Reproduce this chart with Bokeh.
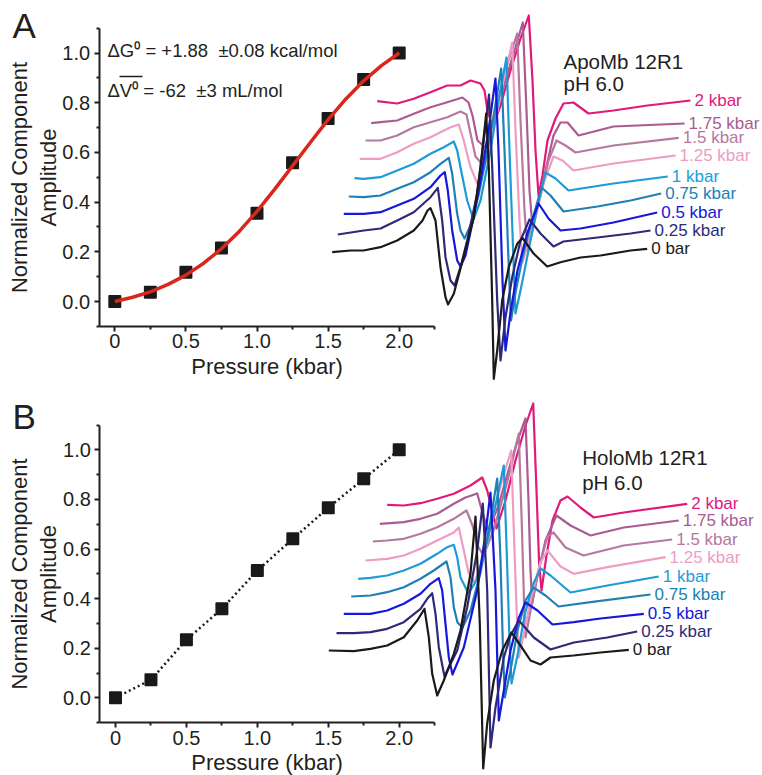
from bokeh.plotting import figure
from bokeh.layouts import column
from bokeh.models import Range1d, FixedTicker, NumeralTickFormatter, LinearAxis
from bokeh.core.properties import value
from bokeh.embed import file_html
from bokeh.resources import INLINE

FONT = "Liberation Sans"
INK = "#231f20"
NB = "\u00a0"

# ---------------- data ----------------
pressure_kbar = [0, 0.25, 0.5, 0.75, 1.0, 1.25, 1.5, 1.75, 2.0]
apo_amplitude = [0.0, 0.037, 0.118, 0.215, 0.355, 0.558, 0.736, 0.893, 1.0]
holo_amplitude = [0.0, 0.073, 0.234, 0.359, 0.513, 0.641, 0.766, 0.883, 1.0]

apo_fit_pressure = [0, 0.125, 0.25, 0.375, 0.5, 0.625, 0.75, 0.875, 1.0,
                    1.125, 1.25, 1.375, 1.5, 1.625, 1.75, 1.875, 2.0]
apo_fit_amplitude = [0.0, 0.017, 0.039, 0.069, 0.106, 0.154, 0.212, 0.282, 0.363,
                     0.452, 0.546, 0.640, 0.732, 0.815, 0.888, 0.949, 1.0]

spectrum_labels = ["0 bar", "0.25 kbar", "0.5 kbar", "0.75 kbar", "1 kbar",
                   "1.25 kbar", "1.5 kbar", "1.75 kbar", "2 kbar"]
spectrum_colors = ["#1a1a1a", "#2e2a78", "#1717dc", "#2080b6", "#1e9bd6",
                   "#ee9cc4", "#b6789f", "#ac5a93", "#e0197b"]

# EPR spectra (stacked, arbitrary field / signal units)
apo_field = [
    [331.7, 350, 363, 380, 396.7, 413.3, 422, 427, 430, 435, 440, 445, 447.5, 453.3, 460, 473.3, 480, 485.7, 488.3, 491.7, 493.3, 496.7, 501.7, 508.3, 516.7, 522, 533.3, 546.7, 560, 580, 600, 630, 646.7],
    [337.3, 363.3, 380, 396.7, 413.3, 430, 437.3, 441.7, 445, 450, 454, 460, 466.7, 476.7, 483.3, 488.5, 491.7, 496.7, 500, 505, 511.7, 520, 529, 540, 553, 563, 597, 630, 650],
    [343.3, 363.3, 380, 396.7, 413.3, 430, 440, 444.3, 447.3, 451.7, 456.7, 460, 465, 472, 480, 488, 495, 498, 502, 505, 510, 517, 527, 538, 548, 560, 580, 613, 656.7],
    [348.3, 363.3, 380, 396.7, 413.3, 430, 440, 448.3, 451.7, 456.7, 460, 464, 470, 478, 486, 494, 500.7, 504, 508, 510.5, 515, 522, 531, 541, 550, 563, 597, 630, 660.7],
    [354, 363.3, 380, 396.7, 413.3, 430, 443.3, 453.3, 456.7, 460, 466.7, 473, 480, 490, 498, 506, 509, 513, 515, 520, 527, 536, 545, 555, 568, 613, 667.3],
    [359.3, 380, 396.7, 413.3, 430, 450, 458.3, 463.3, 470, 478, 486, 495, 503, 511.7, 515, 519, 522, 527, 535, 544, 553, 562, 573, 613, 675],
    [365, 380, 396.7, 413.3, 430, 446.7, 460, 466, 470, 475, 481, 490, 500, 508, 516.7, 520, 524, 527, 532, 540, 548, 556, 565, 575, 613, 678.3],
    [370.7, 380, 396.7, 413.3, 430, 446.7, 462, 468, 472, 477, 485, 495, 505, 514, 522.3, 526, 529, 532, 537, 545, 553, 560, 567, 578, 613, 684],
    [376.7, 396.7, 413.3, 430, 446.7, 460, 470, 480, 484, 487, 492, 500, 510, 520, 528.3, 532, 535, 538, 542, 547, 555, 563, 573, 588, 613, 647, 690],
]
apo_signal = [
    [251.7, 250, 250, 246.7, 240, 230, 220, 210, 207.7, 220, 266.7, 296.7, 304, 293.3, 268, 216.7, 166.7, 113, 166.7, 300, 378.3, 350, 300, 266.7, 243.3, 237.5, 253.3, 266, 261.7, 257, 255, 250, 248.3],
    [234, 230, 228, 220, 211.7, 196.7, 187.3, 220, 256.7, 280, 285, 266.7, 240, 193, 140, 94, 166.7, 300, 360, 316.7, 276.7, 240, 219, 233, 246, 241, 237, 233, 230],
    [213.3, 213.3, 211.7, 205, 198.3, 186.7, 175, 171.7, 190, 230, 260, 266, 255, 222, 180, 130, 78, 150, 280, 350, 312, 270, 232, 203, 218, 230, 228, 222, 212],
    [196, 196.7, 195, 188.3, 181.7, 171.7, 163.3, 157.3, 173.3, 213.3, 230, 238, 225, 195, 155, 110, 68, 150, 260, 320, 292, 257, 222, 187, 195, 211, 206, 200, 193],
    [177.7, 178.3, 176.7, 170, 163.3, 153.3, 146.7, 141, 150, 167, 200, 219, 200, 150, 100, 57, 150, 260, 313, 290, 255, 210, 172, 178, 190, 183, 176],
    [158.3, 158.3, 151.7, 143.3, 136.7, 126.7, 124, 140, 166.7, 186, 160, 120, 80, 42, 130, 220, 262, 245, 215, 180, 156, 160, 170, 163, 155],
    [140, 140, 135, 126.7, 121.7, 116.7, 111, 114, 133, 156, 163, 130, 90, 60, 33, 120, 210, 250, 230, 195, 160, 140, 145, 152, 145, 137.3],
    [122.7, 121.7, 120, 113.3, 106.7, 101.7, 97, 102, 115, 140, 147, 115, 80, 50, 22, 110, 190, 227, 205, 170, 135, 122, 122, 135, 126, 123],
    [100.7, 103, 98.3, 91.7, 85, 85, 80, 83, 90, 110, 126, 105, 70, 38, 15, 80, 150, 195, 175, 140, 118, 103, 102, 113, 110, 105, 100],
]
holo_field = [
    [328.3, 353.3, 370, 386.7, 403.3, 416.7, 424, 428.3, 431.7, 436.7, 443.3, 453.3, 460, 470, 475, 479.3, 482.7, 486.7, 493.3, 501.7, 511, 520, 530, 540, 550, 573, 600, 628.3],
    [336, 353.3, 370, 386.7, 403.3, 420, 426.7, 431.7, 435, 438.3, 444, 448.3, 456.7, 466.7, 476.7, 482.3, 486.7, 490, 495, 503.3, 510, 518.3, 533.3, 550, 573.3, 606.7, 636.7],
    [343.3, 370, 386.7, 403.3, 420, 430, 438.3, 441.7, 445, 448.3, 452, 463.3, 476.7, 485, 490, 495, 498.3, 503.3, 510, 518, 525, 537, 552, 573.3, 600, 643.3],
    [350.7, 370, 386.7, 403.3, 420, 433.3, 446, 450, 453.3, 457, 462, 470, 480, 490, 496.7, 500, 502.5, 504.3, 510, 517, 525, 533, 545, 558, 590, 650],
    [357.7, 370, 386.7, 403.3, 420, 436.7, 446.7, 453.3, 456.7, 460, 468, 476, 487, 496, 503.3, 506.5, 509, 511, 517, 524, 532, 540, 550, 570, 607, 658.3],
    [365, 386.7, 403.3, 420, 436.7, 453.3, 458.3, 463.3, 468, 474, 485, 495, 503, 510.7, 514, 516.5, 518.3, 524, 531, 540, 547, 560, 573.3, 607, 665],
    [372.3, 386.7, 403.3, 420, 436.7, 453.3, 466, 472, 477, 483, 493, 503, 511, 518.3, 521.5, 523.5, 525, 531, 539, 547, 553, 565, 583, 623, 671.7],
    [379.3, 403.3, 420, 436.7, 453.3, 465, 476.7, 483.3, 488, 498, 508, 517, 525, 528, 530, 531.7, 537, 545, 556, 570, 590, 623.3, 678.3],
    [386.7, 403.3, 420, 436.7, 453.3, 470, 481.7, 486.7, 491.7, 496, 505, 515, 525, 532.7, 536, 538.5, 541, 546, 552, 560, 567, 580, 593.3, 623.3, 686.7],
]
holo_signal = [
    [650, 650.7, 648.3, 645, 636.7, 620, 608.3, 636.7, 673.3, 695, 680, 653.3, 630, 573, 516, 623, 768, 723, 680, 650, 632, 645, 660, 664, 657, 655, 652, 649.3],
    [632.7, 632.7, 631.7, 628.3, 621.7, 608.3, 598.3, 592.7, 613.3, 646.7, 676, 667, 650, 606.7, 550, 503, 590, 747, 707, 657, 635, 620, 637, 649, 642, 637, 631],
    [613.3, 613.3, 610, 603.3, 593.3, 583.3, 577.7, 590, 623.3, 656.7, 674, 647, 590, 533, 492, 590, 720, 690, 650, 618, 602, 610, 624, 621.7, 618, 613.3],
    [596, 595, 591.7, 586.7, 578.3, 570, 561, 576.7, 606.7, 622, 627, 610, 572, 520, 478, 560, 650, 697, 670, 630, 600, 587, 595, 606, 601.7, 594],
    [578.3, 577.3, 575, 570, 563.3, 553.3, 546.7, 544.3, 556.7, 577, 593, 580, 540, 500, 465, 560, 640, 683, 655, 615, 585, 568, 575, 592, 585, 576],
    [560, 558.3, 555, 548.3, 540, 532, 527, 550, 572, 582, 550, 505, 475, 450, 550, 620, 657, 630, 595, 562, 550, 566, 573.3, 566.7, 556.7],
    [541, 540, 538.3, 533.3, 526.7, 518.3, 510, 525, 545, 555, 530, 495, 465, 433, 530, 600, 637, 605, 565, 536, 532, 547, 555, 545, 539],
    [523.3, 521.7, 518.3, 513.3, 503.3, 497, 493, 516.7, 530, 505, 470, 440, 418, 500, 570, 603, 575, 540, 515, 525, 535, 527, 520],
    [504.3, 505, 502.7, 498.3, 493.3, 485, 477, 490, 510, 528, 500, 460, 425, 403, 490, 560, 590, 555, 520, 500, 496, 507, 517, 512, 503.3],
]


def style_axis(ax):
    ax.axis_line_color = INK
    ax.axis_line_width = 2
    ax.major_tick_line_color = INK
    ax.major_tick_line_width = 2
    ax.minor_tick_line_color = INK
    ax.minor_tick_line_width = 2
    ax.major_tick_in = 0
    ax.major_tick_out = 5
    ax.minor_tick_in = 0
    ax.minor_tick_out = 3
    ax.major_label_text_font = FONT
    ax.major_label_text_font_size = "20px"
    ax.major_label_text_color = INK
    ax.axis_label_text_font = FONT
    ax.axis_label_text_font_size = "22px"
    ax.axis_label_text_font_style = "normal"
    ax.axis_label_text_color = INK
    ax.axis_label_text_line_height = 1.15


def build_panel(h, page_top, x0px, xscale, y0px, yscale):
    xr = Range1d(-x0px / xscale, (762 - x0px) / xscale)
    yr = Range1d(-(h - y0px) / yscale, y0px / yscale)
    p = figure(width=762, height=h, x_range=xr, y_range=yr,
               output_backend="svg", toolbar_location=None,
               x_axis_location=None, y_axis_location=None, title=None,
               min_border=0, min_border_left=0, min_border_right=0,
               min_border_top=0, min_border_bottom=0)
    p.outline_line_color = None
    p.background_fill_color = "white"
    p.border_fill_color = "white"
    p.grid.visible = False
    p.extra_x_ranges = {"px": Range1d(0, 762)}
    p.extra_y_ranges = {"py": Range1d(page_top + h, page_top)}

    xax = LinearAxis(fixed_location=-0.1, bounds=(-0.11, 2.25),
                     ticker=FixedTicker(ticks=[0, 0.5, 1.0, 1.5, 2.0],
                                        minor_ticks=[0.25, 0.75, 1.25, 1.75, 2.25]),
                     formatter=NumeralTickFormatter(format="0.0"),
                     axis_label="Pressure (kbar)")
    xax.major_label_overrides = {0: "0"}
    style_axis(xax)
    xax.major_label_standoff = 3
    xax.axis_label_standoff = 2
    p.add_layout(xax, "below")

    yax = LinearAxis(fixed_location=-0.11, bounds=(-0.1, 1.1),
                     ticker=FixedTicker(ticks=[0, 0.2, 0.4, 0.6, 0.8, 1.0],
                                        minor_ticks=[-0.1, 0.1, 0.3, 0.5, 0.7, 0.9, 1.1]),
                     formatter=NumeralTickFormatter(format="0.0"),
                     axis_label="Normalized Component\nAmplitude")
    style_axis(yax)
    yax.major_label_standoff = 4
    yax.axis_label_standoff = -1
    p.add_layout(yax, "left")
    return p


def add_spectra(p, fields, signals):
    for i in reversed(range(len(fields))):
        p.line(fields[i], signals[i], line_color=spectrum_colors[i], line_width=2.2,
               line_join="round", x_range_name="px", y_range_name="py")
    for i in range(len(fields)):
        p.text([fields[i][-1] + 4], [signals[i][-1]], text=[spectrum_labels[i]],
               text_color=spectrum_colors[i], text_font=value(FONT),
               text_font_size="17px", text_baseline="middle", text_align="left",
               x_range_name="px", y_range_name="py")


def add_text(p, x, y, s, size, color=INK):
    p.text([x], [y], text=[s], text_color=color, text_font=value(FONT),
           text_font_size=size, text_baseline="middle", text_align="left",
           x_range_name="px", y_range_name="py")


# ---------------- panel A ----------------
pa = build_panel(390, 0, 114.3, 142.2, 301.0, 248.5)
pa.scatter(pressure_kbar, apo_amplitude, marker="square", size=11,
           fill_color="#1a1a1a", line_color="#1a1a1a", line_width=2, line_join="round")
pa.line(apo_fit_pressure, apo_fit_amplitude, line_color="#d8281e", line_width=3.5)
add_spectra(pa, apo_field, apo_signal)
add_text(pa, 12, 24.5, "A", "35px")
add_text(pa, 107, 50, "\u0394G\u2070 = +1.88" + NB + NB + "\u00b10.08 kcal/mol", "18.5px")
add_text(pa, 107, 90, "\u0394V\u2070 = -62" + NB + NB + "\u00b13 mL/mol", "18.5px")
pa.segment([119], [76], [142], [76], line_color=INK, line_width=1.5,
           x_range_name="px", y_range_name="py")
add_text(pa, 563, 61.3, "ApoMb 12R1", "20.5px")
add_text(pa, 563, 83.3, "pH 6.0", "20.5px")

# ---------------- panel B ----------------
pb = build_panel(385, 390, 115.0, 141.85, 307.3, 248.0)
pb.line(pressure_kbar, holo_amplitude, line_color="#1a1a1a", line_width=2.5,
        line_dash="2 3")
pb.scatter(pressure_kbar, holo_amplitude, marker="square", size=11,
           fill_color="#1a1a1a", line_color="#1a1a1a", line_width=2, line_join="round")
add_spectra(pb, holo_field, holo_signal)
add_text(pb, 12, 415.5, "B", "35px")
add_text(pb, 581.7, 457, "HoloMb 12R1", "20.5px")
add_text(pb, 581.7, 482, "pH 6.0", "20.5px")

layout = column(pa, pb, spacing=0)
open("out.html", "w").write(file_html(layout, INLINE))
